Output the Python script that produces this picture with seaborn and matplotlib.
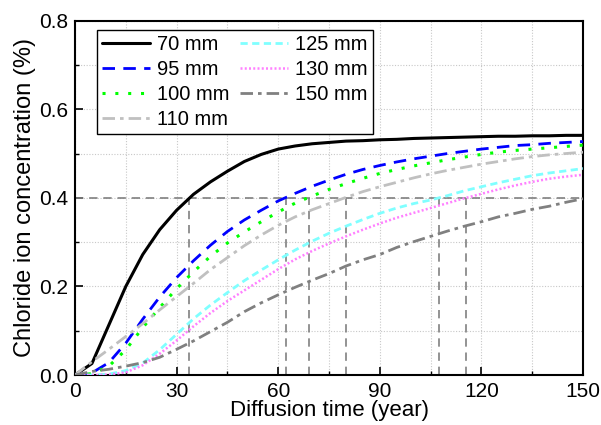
import numpy as np
import pandas as pd
import matplotlib
matplotlib.use("Agg")
import matplotlib.pyplot as plt
import seaborn as sns

# ---- data -------------------------------------------------------------
time_years = list(range(0, 151, 5))

c_70 = [0, 0.026, 0.113, 0.200, 0.272, 0.328, 0.372, 0.408, 0.436, 0.460,
        0.482, 0.498, 0.510, 0.517, 0.522, 0.525, 0.528, 0.529, 0.531, 0.532,
        0.534, 0.535, 0.536, 0.537, 0.538, 0.539, 0.539, 0.540, 0.540, 0.541, 0.541]
c_95 = [0, 0.005, 0.028, 0.072, 0.126, 0.176, 0.220, 0.258, 0.293, 0.324,
        0.350, 0.372, 0.393, 0.410, 0.426, 0.440, 0.453, 0.464, 0.473, 0.481,
        0.488, 0.494, 0.500, 0.505, 0.510, 0.514, 0.518, 0.520, 0.523, 0.525, 0.527]
c_100 = [0, 0.003, 0.020, 0.057, 0.107, 0.152, 0.195, 0.233, 0.268, 0.298,
         0.323, 0.346, 0.368, 0.388, 0.404, 0.419, 0.432, 0.444, 0.455, 0.464,
         0.472, 0.479, 0.486, 0.492, 0.498, 0.503, 0.507, 0.510, 0.513, 0.516, 0.519]
c_110 = [0, 0.030, 0.058, 0.087, 0.116, 0.147, 0.177, 0.207, 0.238, 0.265,
         0.292, 0.316, 0.338, 0.357, 0.373, 0.387, 0.401, 0.414, 0.425, 0.435,
         0.445, 0.454, 0.462, 0.469, 0.476, 0.482, 0.488, 0.493, 0.497, 0.500, 0.503]
c_125 = [0, 0.000, 0.002, 0.010, 0.027, 0.057, 0.092, 0.127, 0.158, 0.186,
         0.213, 0.237, 0.260, 0.282, 0.302, 0.320, 0.336, 0.351, 0.365, 0.377,
         0.387, 0.395, 0.405, 0.416, 0.425, 0.434, 0.442, 0.450, 0.456, 0.461, 0.466]
c_130 = [0, 0.000, 0.001, 0.006, 0.022, 0.048, 0.078, 0.110, 0.140, 0.167,
         0.191, 0.215, 0.239, 0.261, 0.280, 0.297, 0.313, 0.328, 0.342, 0.355,
         0.366, 0.377, 0.388, 0.399, 0.409, 0.419, 0.428, 0.436, 0.443, 0.448, 0.452]
c_150 = [0, 0.008, 0.013, 0.020, 0.028, 0.040, 0.058, 0.077, 0.098, 0.119,
         0.143, 0.163, 0.181, 0.198, 0.214, 0.229, 0.246, 0.260, 0.272, 0.288,
         0.301, 0.313, 0.325, 0.336, 0.346, 0.357, 0.365, 0.374, 0.381, 0.390, 0.398]

series_labels = ["70 mm", "95 mm", "100 mm", "110 mm", "125 mm", "130 mm", "150 mm"]
series_values = [c_70, c_95, c_100, c_110, c_125, c_130, c_150]

threshold = 0.4
cross_times = [33.8, 62.3, 69.2, 79.9, 107.5, 115.3]

x_ticks = [0, 30, 60, 90, 120, 150]
y_ticks = [0.0, 0.2, 0.4, 0.6, 0.8]

# ---- styles -----------------------------------------------------------
colors = ["#000000", "#0000FF", "#00FF00", "#C0C0C0", "#80FFFF", "#FF80FF", "#808080"]
styles = ["-", (0, (4.5, 3.0)), (0, (1.0, 3.2)), (0, (4.5, 1.8, 1.3, 1.8)),
          (0, (2.6, 1.6)), (0, (0.8, 0.9)), (0, (4.5, 1.8, 1.3, 1.8))]
widths = [2.2, 2.0, 2.2, 2.0, 2.0, 1.8, 2.0]

sns.set_theme(style="white")
plt.rcParams["font.family"] = ["Liberation Sans", "DejaVu Sans"]
plt.rcParams["text.color"] = "black"
plt.rcParams["axes.labelcolor"] = "black"
plt.rcParams["xtick.color"] = "black"
plt.rcParams["ytick.color"] = "black"

fig = plt.figure(figsize=(6.01, 4.25), dpi=100)
ax = fig.add_axes([0.1248, 0.1176, 0.8453, 0.8339])

# reference lines
ref_kw = dict(color="#808080", lw=1.2, linestyle=(0, (5, 3.5)), zorder=1)
ax.axhline(threshold, **ref_kw)
for xc in cross_times:
    ax.plot([xc, xc], [0, threshold], **ref_kw)

df = pd.DataFrame({"time": time_years})
for lab, vals, col, ls, lw in zip(series_labels, series_values, colors, styles, widths):
    df[lab] = vals
    sns.lineplot(data=df, x="time", y=lab, ax=ax, color=col, linestyle=ls,
                 lw=lw, label=lab, zorder=3)

ax.set_xlim(0, 150)
ax.set_ylim(0, 0.8)
ax.set_xticks(x_ticks)
ax.set_yticks(y_ticks)
ax.set_xticklabels([str(v) for v in x_ticks])
ax.set_yticklabels([f"{v:.1f}" for v in y_ticks])
ax.set_xticks([15, 45, 75, 105, 135], minor=True)
ax.set_yticks([0.1, 0.3, 0.5, 0.7], minor=True)
ax.grid(True, which="both", color="#C8C8C8", linestyle=(0, (1, 1.5)), lw=0.8, zorder=0)
ax.set_axisbelow(True)

ax.tick_params(axis="both", which="major", direction="in", length=6, width=1.2,
               labelsize=15, colors="black", bottom=True, left=True, pad=5)
ax.tick_params(axis="both", which="minor", direction="in", length=3, width=1.0,
               bottom=True, left=True)
for sp in ax.spines.values():
    sp.set_color("black")
    sp.set_linewidth(1.5)

ax.set_xlabel("Diffusion time (year)", fontsize=16, labelpad=-1, color="black")
ax.set_ylabel("Chloride ion concentration (%)", fontsize=17, labelpad=2, color="black")

leg = ax.legend(loc="upper left", bbox_to_anchor=(0.043, 0.973), ncol=2,
                fontsize=14.5, frameon=True, fancybox=False, edgecolor="black",
                borderaxespad=0, handlelength=2.4, handletextpad=0.35,
                columnspacing=0.5, labelspacing=0.3, borderpad=0.25)
leg.get_frame().set_linewidth(1.0)
leg.get_frame().set_alpha(1)
for txt in leg.get_texts():
    txt.set_color("black")

fig.savefig("out.png", dpi=100)
